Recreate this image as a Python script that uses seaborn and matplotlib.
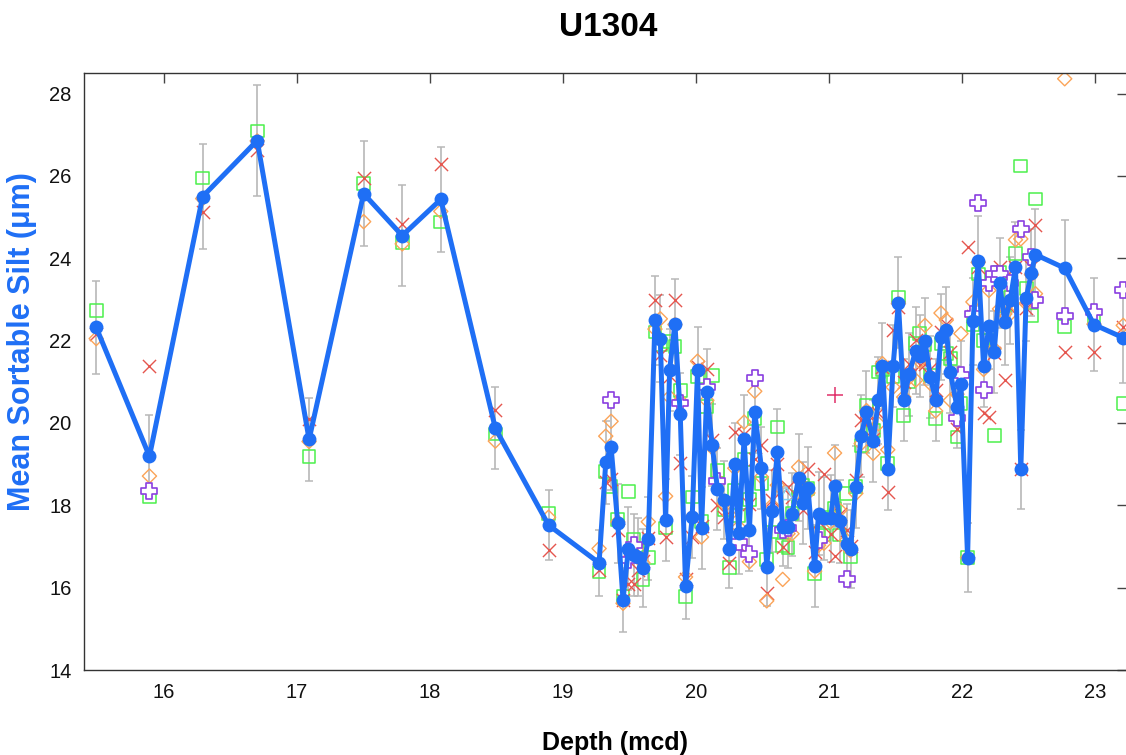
import numpy as np
import pandas as pd
import matplotlib
matplotlib.use("Agg")
import matplotlib.pyplot as plt
import seaborn as sns

# Depth (mcd) of each sample
depth = [15.49, 15.89, 16.29, 16.70, 17.09, 17.50, 17.79, 18.08, 18.49, 18.89,
         19.27, 19.32, 19.36, 19.41, 19.45, 19.49, 19.53, 19.56, 19.60, 19.64,
         19.69, 19.73, 19.77, 19.80, 19.84, 19.88, 19.92, 19.97, 20.01, 20.04,
         20.08, 20.12, 20.16, 20.21, 20.25, 20.29, 20.32, 20.36, 20.40, 20.44,
         20.49, 20.53, 20.57, 20.61, 20.65, 20.69, 20.72, 20.77, 20.80, 20.84,
         20.89, 20.92, 20.96, 21.01, 21.04, 21.08, 21.13, 21.16, 21.20, 21.24,
         21.28, 21.33, 21.37, 21.40, 21.44, 21.48, 21.52, 21.56, 21.60, 21.65,
         21.68, 21.72, 21.76, 21.80, 21.84, 21.88, 21.91, 21.96, 21.99, 22.04,
         22.08, 22.12, 22.16, 22.20, 22.24, 22.28, 22.32, 22.36, 22.40, 22.44,
         22.48, 22.52, 22.55, 22.77, 22.99, 23.21]

# Mean sortable silt (um)
mean_ss = [22.32, 19.19, 25.50, 26.86, 19.60, 25.57, 24.55, 25.43, 19.87, 17.52,
           16.60, 19.04, 19.42, 17.56, 15.70, 16.95, 16.79, 16.75, 16.48, 17.19,
           22.49, 22.05, 17.64, 21.28, 22.41, 20.21, 16.05, 17.72, 21.28, 17.45,
           20.75, 19.46, 18.39, 18.12, 16.95, 19.01, 17.33, 19.62, 17.40, 20.27,
           18.91, 16.51, 17.86, 19.30, 17.48, 17.48, 17.78, 18.67, 18.05, 18.42,
           16.52, 17.80, 17.68, 17.68, 18.47, 17.61, 17.07, 16.93, 18.45, 19.68,
           20.27, 19.56, 20.55, 21.38, 18.89, 21.38, 22.92, 20.55, 21.18, 21.76,
           21.62, 21.98, 21.12, 20.55, 22.09, 22.25, 21.24, 20.39, 20.94, 16.73,
           22.47, 23.93, 21.38, 22.35, 21.72, 23.40, 22.45, 22.98, 23.79, 18.87,
           23.03, 23.65, 24.09, 23.76, 22.39, 22.07]

# One standard deviation of the replicate measurements
sd_ss = [1.13, 1.00, 1.28, 1.34, 1.00, 1.28, 1.22, 1.28, 1.00, 0.85,
         0.80, 1.00, 1.05, 0.95, 0.78, 1.00, 1.00, 0.95, 0.95, 1.00,
         1.09, 1.05, 1.00, 1.00, 1.09, 1.00, 0.80, 1.00, 1.05, 1.00,
         1.05, 1.00, 1.00, 0.95, 0.95, 1.00, 1.00, 1.05, 1.00, 1.00,
         1.00, 0.95, 1.00, 1.05, 0.95, 1.00, 1.00, 1.05, 1.00, 1.00,
         1.00, 1.00, 1.00, 1.05, 1.00, 1.00, 0.95, 0.95, 1.00, 1.00,
         1.00, 1.00, 1.05, 1.05, 1.00, 1.00, 1.10, 1.00, 1.00, 1.05,
         1.00, 1.05, 1.00, 1.00, 1.05, 1.05, 1.00, 1.00, 1.05, 0.83,
         1.05, 1.10, 1.00, 1.05, 1.00, 1.10, 1.05, 1.05, 1.10, 0.95,
         1.05, 1.05, 1.10, 1.18, 1.13, 1.10]

# Individual replicate runs
run_a = [22.73, 18.22, 25.95, 27.09, 19.19, 25.82, 24.39, 24.88, 19.73, 17.81,
         16.38, 18.83, 18.45, 17.65, 15.78, 18.33, 17.17, 16.91, 16.20, 16.73,
         22.21, 21.91, 17.45, 21.97, 21.86, 20.78, 15.78, 18.20, 21.12, 17.60,
         20.40, 21.16, 18.85, 17.90, 16.49, 18.36, 17.75, 19.11, 18.14, 20.11,
         18.53, 16.68, 17.35, 19.90, 17.03, 16.97, 17.80, 18.20, 18.49, 18.40,
         16.34, 17.31, 17.28, 17.70, 17.92, 17.28, 18.29, 16.75, 18.45, 19.46,
         20.43, 19.82, 21.24, 21.30, 19.01, 21.13, 23.06, 20.19, 21.00, 21.93,
         22.17, 21.90, 21.16, 20.11, 21.93, 21.68, 21.56, 19.66, 20.47, 16.73,
         22.40, 23.62, 22.01, 22.01, 19.70, 23.66, 22.86, 23.06, 24.11, 26.24,
         23.26, 22.61, 25.44, 22.35, 22.57, 20.47]

run_b = [22.17, 21.38, 25.12, 26.62, 20.09, 25.95, 24.84, 26.28, 20.31, 16.91,
         16.43, 18.57, 18.63, 17.41, 15.70, 16.10, 16.10, 16.43, 16.65, 17.20,
         22.98, 21.64, 17.23, 21.13, 22.98, 19.03, 16.22, 17.23, 21.36, 17.50,
         21.32, 19.58, 18.00, 17.72, 16.59, 19.78, 17.00, 19.73, 18.02, 19.12,
         19.46, 15.86, 18.12, 19.01, 16.99, 18.45, 18.20, 18.45, 17.88, 18.89,
         16.87, 17.60, 18.75, 17.30, 16.76, 17.80, 17.40, 17.00, 18.61, 20.06,
         20.00, 19.60, 20.23, 21.35, 18.33, 22.25, 22.81, 21.00, 21.44, 22.01,
         21.40, 21.44, 21.32, 20.80, 22.20, 22.41, 21.72, 19.86, 21.10, 24.28,
         22.60, 23.80, 20.23, 20.15, 21.70, 23.79, 21.05, 22.80, 23.80, 18.87,
         22.80, 23.80, 24.82, 21.72, 21.72, 22.33]

run_c = [22.05, 18.71, 25.45, 26.85, 19.55, 24.89, 24.35, 25.14, 19.56, 17.71,
         16.95, 19.68, 20.04, 17.60, 15.62, 16.70, 16.85, 16.90, 16.60, 17.60,
         22.28, 22.53, 18.22, 20.63, 22.39, 20.54, 16.26, 17.73, 21.50, 17.23,
         20.55, 19.40, 18.61, 18.04, 17.77, 18.90, 17.47, 20.02, 16.63, 20.77,
         18.69, 15.68, 18.00, 18.49, 16.20, 17.31, 17.31, 18.93, 18.10, 18.30,
         16.40, 17.03, 17.08, 17.60, 19.27, 17.88, 17.15, 16.90, 18.29, 19.50,
         20.30, 19.26, 19.98, 21.44, 19.35, 20.87, 22.90, 20.63, 21.10, 21.04,
         21.50, 22.37, 20.96, 20.29, 22.67, 22.50, 20.55, 20.70, 22.17, 16.73,
         22.94, 23.90, 21.30, 23.22, 21.80, 22.77, 22.65, 22.65, 24.45, 24.47,
         22.90, 23.60, 23.14, 28.36, 22.40, 22.37]

nan = np.nan
run_d = [nan, 18.34, nan, nan, nan, nan, nan, nan, nan, nan,
         nan, nan, 20.55, nan, nan, 16.67, 17.03, nan, nan, nan,
         nan, nan, nan, nan, nan, 20.49, nan, nan, nan, nan,
         20.87, nan, 18.59, nan, nan, nan, 17.10, nan, 16.81, 21.08,
         nan, nan, nan, nan, 17.40, 17.44, nan, nan, nan, nan,
         nan, 17.15, nan, nan, nan, nan, 16.20, nan, nan, nan,
         nan, nan, nan, nan, nan, nan, nan, nan, nan, nan,
         nan, nan, nan, nan, nan, nan, nan, 20.11, 21.16, nan,
         22.64, 25.34, 20.79, 23.40, 23.62, 23.62, nan, 23.40, nan, 24.72,
         nan, 24.03, 22.98, 22.61, 22.69, 23.22]

# Single extra runs
run_e_depth, run_e = [21.04], [20.67]
run_f_depth, run_f = [20.68], [18.29]

x_ticks = [16, 17, 18, 19, 20, 21, 22, 23]
y_ticks = [14, 16, 18, 20, 22, 24, 26, 28]

BLUE = "#1f6ff5"

sns.set_theme(style="white")
plt.rcParams["font.family"] = ["Liberation Sans", "DejaVu Sans"]

df = pd.DataFrame({"depth": depth, "mean": mean_ss, "sd": sd_ss,
                   "a": run_a, "b": run_b, "c": run_c, "d": run_d})

fig = plt.figure(figsize=(11.26, 7.55), dpi=100)
ax = fig.add_axes([84 / 1126, 1 - 670 / 755, 1 - 84 / 1126 + 0.0005, (670 - 73) / 755])

ax.errorbar(df["depth"], df["mean"], yerr=df["sd"], fmt="none",
            ecolor="#b8b8b8", elinewidth=1.2, capsize=3, capthick=1.1, zorder=1)

sns.scatterplot(data=df, x="depth", y="a", marker="s", s=85, color="#4cf04c",
                facecolor="none", edgecolor="#4cf04c", linewidth=1.1, ax=ax, zorder=2)
sns.scatterplot(data=df, x="depth", y="b", marker="x", s=90, color="#e5564e",
                linewidth=1.0, ax=ax, zorder=2)
sns.scatterplot(data=df, x="depth", y="c", marker="D", s=52, color="#fba458",
                facecolor="none", edgecolor="#fba458", linewidth=1.0, ax=ax, zorder=2)
sns.scatterplot(data=df, x="depth", y="d", marker="P", s=125, color="#8a3ee0",
                facecolor="white", edgecolor="#8a3ee0", linewidth=1.2, ax=ax, zorder=2)
sns.scatterplot(x=run_e_depth, y=run_e, marker="+", s=120, color="#e0306a",
                linewidth=1.1, ax=ax, zorder=2)
sns.scatterplot(x=run_f_depth, y=run_f, marker="^", s=80, color="#86d3f0",
                facecolor="none", edgecolor="#86d3f0", linewidth=1.1, ax=ax, zorder=2)

sns.lineplot(data=df, x="depth", y="mean", sort=False, estimator=None,
             color=BLUE, linewidth=3.6, marker="o", markersize=10,
             markeredgewidth=0, markerfacecolor=BLUE, ax=ax, zorder=4)

ax.set_xlim(15.398, 23.235)
ax.set_ylim(14, 28.5)
ax.set_xticks(x_ticks)
ax.set_yticks(y_ticks)
ax.set_xlabel("")
ax.set_ylabel("")
ax.tick_params(direction="in", length=7, width=1, top=True, right=True,
               labelsize=14.5, pad=9, color="#444444", labelcolor="#111111")
for sp in ax.spines.values():
    sp.set_color("#333333")
    sp.set_linewidth(1.0)

fig.text(608 / 1126, 1 - 27 / 755, "U1304", ha="center", va="center",
         fontsize=24, fontweight="bold", color="black")
fig.text(615 / 1126, 1 - 743 / 755, "Depth (mcd)", ha="center", va="center",
         fontsize=18, fontweight="bold", color="black")
fig.text(22 / 1126, 1 - 342 / 755, "Mean Sortable Silt (\u03bcm)", ha="center",
         va="center", rotation=90, fontsize=22, fontweight="bold", color=BLUE)

fig.savefig("out.png", dpi=100)
